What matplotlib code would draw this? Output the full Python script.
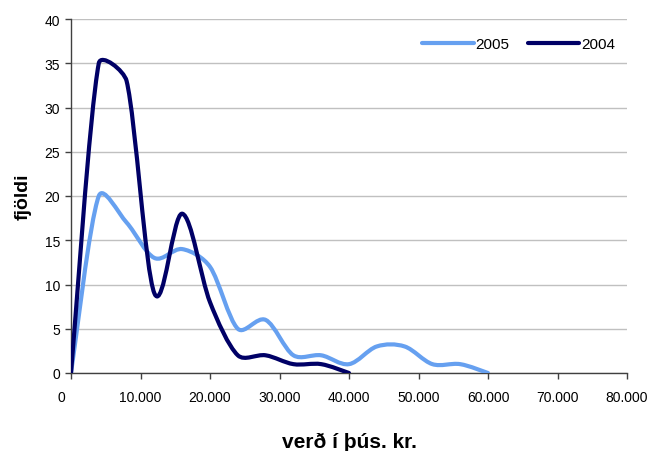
import numpy as np
import matplotlib
matplotlib.use("Agg")
import matplotlib.pyplot as plt
import matplotlib.transforms as mtransforms
from matplotlib.path import Path
from matplotlib.patches import PathPatch
from matplotlib.lines import Line2D

plt.rcParams["font.family"] = ["Liberation Sans", "DejaVu Sans"]

# verð (þús. kr.) og fjöldi
x_2004 = [0, 4000, 8000, 12000, 16000, 20000, 24000, 28000, 32000, 36000, 40000]
y_2004 = [0, 35, 33, 9, 18, 8, 2, 2, 1, 1, 0]

x_2005 = [0, 4000, 8000, 12000, 16000, 20000, 24000, 28000, 32000, 36000,
          40000, 44000, 48000, 52000, 56000, 60000]
y_2005 = [0, 20, 17, 13, 14, 12, 5, 6, 2, 2, 1, 3, 3, 1, 1, 0]

series_names = ["2005", "2004"]
series_colors = ["#66A0F0", "#000066"]

x_ticks = [0, 10000, 20000, 30000, 40000, 50000, 60000, 70000, 80000]
x_ticklabels = ["0", "10.000", "20.000", "30.000", "40.000",
                "50.000", "60.000", "70.000", "80.000"]
y_ticks = [0, 5, 10, 15, 20, 25, 30, 35, 40]

fig = plt.figure(figsize=(6.53, 4.52), dpi=100)
ax = fig.add_axes([71 / 653, 78 / 452, 556 / 653, 354 / 452])
ax.set_xlim(0, 80000)
ax.set_ylim(0, 40)


def smooth_path(xs, ys, k=1 / 3.0):
    # Excel-like smoothing: Catmull-Rom bezier, control arm never longer
    # than k * segment length (measured on screen)
    sx = 556 / 80000.0
    sy = 354 / 40.0
    pts = np.column_stack([np.asarray(xs, float) * sx, np.asarray(ys, float) * sy])
    n = len(pts)
    tang = [(pts[min(i + 1, n - 1)] - pts[max(i - 1, 0)]) / 6.0 for i in range(n)]

    def clamp(v, lim):
        L = np.hypot(*v)
        return v * (lim / L) if L > lim else v

    verts = [pts[0]]
    codes = [Path.MOVETO]
    for i in range(n - 1):
        p1, p2 = pts[i], pts[i + 1]
        seg = np.hypot(*(p2 - p1))
        verts += [p1 + clamp(tang[i], seg * k), p2 - clamp(tang[i + 1], seg * k), p2]
        codes += [Path.CURVE4] * 3
    verts = np.array(verts) / [sx, sy]
    return Path(verts, codes)


for xs, ys, col in [(x_2005, y_2005, series_colors[0]),
                    (x_2004, y_2004, series_colors[1])]:
    patch = PathPatch(smooth_path(xs, ys), facecolor="none", edgecolor=col,
                      lw=3.0, capstyle="round", joinstyle="round", zorder=3)
    ax.add_patch(patch)

ax.set_xticks(x_ticks)
ax.set_xticklabels(x_ticklabels)
ax.set_yticks(y_ticks)
ax.tick_params(axis="both", direction="out", length=4.5, width=1,
               color="#404040", labelsize=10, labelcolor="#000000")
ax.tick_params(axis="x", pad=8)
ax.tick_params(axis="y", pad=3.5)

# "0" label sits a little left of its tick
lbl0 = ax.get_xticklabels()[0]
lbl0.set_transform(lbl0.get_transform() +
                   mtransforms.ScaledTranslation(-10 / 100, 0, fig.dpi_scale_trans))

ax.yaxis.grid(True, color="#C0C0C0", lw=1)
ax.set_axisbelow(True)
for s in ["top", "right"]:
    ax.spines[s].set_visible(False)
for s in ["left", "bottom"]:
    ax.spines[s].set_color("#404040")
    ax.spines[s].set_linewidth(1)

ax.set_xlabel("verð í þús. kr.", fontsize=15, fontweight="bold", labelpad=20)
ax.set_ylabel("fjöldi", fontsize=14, fontweight="bold", labelpad=9)

handles = [Line2D([], [], color=c, lw=3.0, solid_capstyle="round")
           for c in series_colors]
ax.legend(handles, series_names, loc="center right", ncol=2, frameon=False,
          fontsize=11, handlelength=3.4, handletextpad=0.1, columnspacing=1.2,
          borderpad=0, borderaxespad=0,
          bbox_to_anchor=((615 - 71) / 556, (374 - 45) / 354))

fig.savefig("out.png", dpi=100)
